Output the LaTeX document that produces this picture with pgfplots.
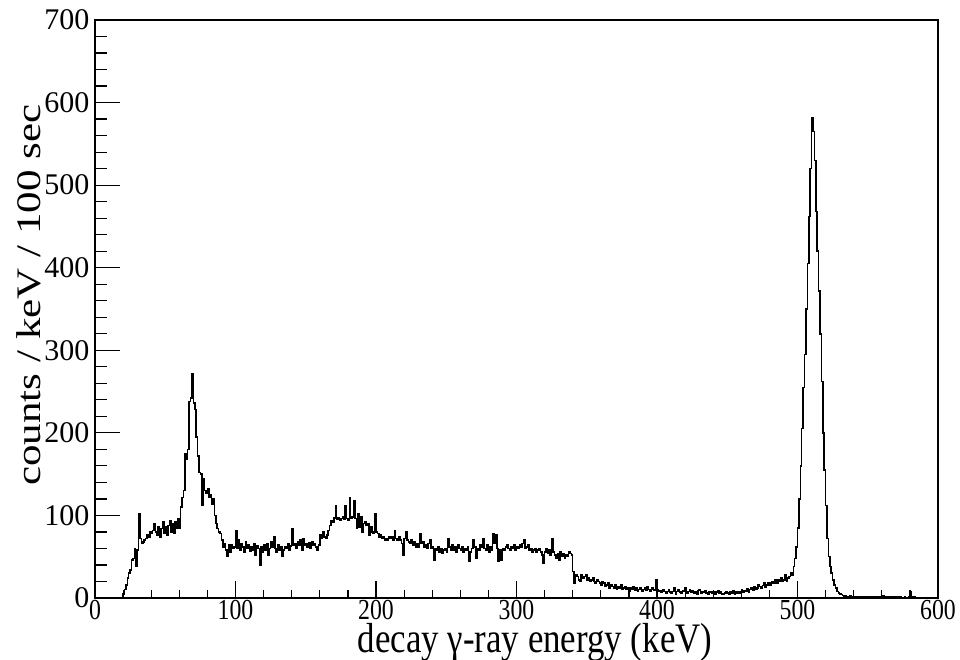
\documentclass[border=0pt]{standalone}
\usepackage{fontspec}
\setmainfont{Liberation Serif}
\usepackage{pgfplots}
\usepackage{pgfplotstable}
\pgfplotsset{compat=1.18}
% counts per 1 keV bin, bins starting at 19 keV
\pgfplotstableread[header=false,row sep=\\]{
0\\
5\\10\\16\\24\\30\\34\\46\\48\\60\\38\\
58\\102\\72\\66\\68\\70\\72\\76\\74\\80\\
78\\82\\90\\80\\76\\86\\74\\84\\92\\78\\
86\\76\\88\\94\\80\\90\\78\\92\\84\\96\\
84\\110\\122\\130\\175\\168\\180\\238\\242\\272\\
236\\228\\195\\172\\152\\150\\112\\145\\130\\127\\
132\\122\\125\\113\\120\\100\\90\\84\\80\\78\\
70\\62\\66\\58\\50\\64\\56\\65\\60\\62\\
82\\60\\70\\58\\66\\62\\55\\68\\60\\64\\
57\\62\\58\\66\\52\\63\\60\\40\\62\\56\\
64\\58\\66\\52\\60\\68\\62\\74\\60\\56\\
64\\58\\62\\50\\58\\62\\60\\66\\58\\63\\
84\\64\\66\\60\\68\\64\\70\\58\\72\\64\\
66\\62\\67\\60\\68\\64\\66\\62\\58\\64\\
76\\72\\80\\74\\72\\76\\82\\88\\94\\92\\
97\\112\\95\\97\\94\\96\\98\\95\\112\\96\\
94\\122\\96\\98\\118\\96\\84\\102\\86\\98\\
80\\90\\92\\88\\90\\76\\86\\80\\78\\102\\
80\\78\\74\\76\\72\\74\\70\\72\\70\\74\\
72\\74\\70\\82\\72\\70\\74\\70\\66\\52\\
72\\80\\70\\68\\66\\70\\64\\68\\62\\66\\
62\\78\\66\\68\\62\\64\\60\\66\\70\\60\\
62\\46\\60\\58\\62\\56\\60\\54\\58\\60\\
56\\72\\62\\58\\64\\58\\62\\56\\64\\60\\
58\\62\\56\\60\\58\\62\\44\\56\\60\\70\\
62\\48\\60\\58\\64\\62\\72\\60\\58\\64\\
56\\62\\58\\78\\66\\76\\60\\45\\58\\46\\
60\\58\\62\\64\\60\\58\\62\\60\\64\\58\\
62\\60\\64\\62\\66\\70\\60\\62\\64\\58\\
60\\56\\58\\60\\56\\58\\60\\56\\52\\42\\
56\\60\\54\\58\\52\\72\\56\\52\\48\\54\\
46\\56\\50\\54\\48\\52\\50\\56\\54\\52\\
32\\18\\28\\26\\22\\20\\28\\24\\26\\28\\
22\\24\\20\\22\\24\\20\\18\\22\\20\\18\\
16\\20\\18\\14\\16\\18\\12\\16\\14\\12\\
16\\10\\14\\12\\16\\10\\12\\14\\10\\12\\
8\\12\\10\\14\\9\\12\\8\\10\\12\\8\\
10\\12\\9\\14\\10\\8\\12\\10\\9\\22\\
10\\8\\9\\7\\10\\8\\6\\8\\10\\7\\
6\\8\\12\\5\\8\\10\\7\\6\\9\\8\\
12\\6\\8\\10\\7\\9\\6\\8\\5\\9\\
10\\6\\8\\7\\9\\6\\5\\8\\7\\6\\
8\\5\\7\\9\\6\\7\\5\\4\\6\\8\\
6\\5\\7\\6\\9\\5\\7\\6\\8\\6\\
10\\7\\9\\8\\11\\7\\10\\12\\9\\14\\
10\\12\\16\\14\\12\\15\\18\\13\\16\\19\\
15\\18\\20\\18\\22\\18\\22\\20\\24\\20\\
22\\28\\20\\24\\26\\30\\28\\38\\48\\62\\
85\\120\\160\\205\\255\\295\\350\\405\\462\\520\\
582\\565\\530\\468\\420\\372\\320\\262\\200\\155\\
112\\72\\50\\38\\30\\22\\16\\12\\8\\6\\
5\\4\\3\\2\\3\\1\\2\\3\\1\\2\\
1\\2\\0\\1\\2\\1\\0\\1\\2\\1\\
0\\1\\0\\2\\1\\0\\1\\0\\1\\0\\
1\\3\\0\\1\\0\\2\\0\\1\\0\\1\\
0\\2\\0\\1\\0\\0\\1\\0\\0\\1\\
8\\1\\0\\2\\0\\0\\0\\0\\0\\0\\
0\\0\\0\\0\\0\\0\\0\\0\\0\\0\\
0\\
}\spectrum

\begin{document}
\begin{tikzpicture}[x=1pt,y=1pt]
\useasboundingbox (0,0) rectangle (960,660);
% axis with y ticks, frame and histogram
\begin{axis}[
  at={(95pt,62pt)}, anchor=south west,
  scale only axis, width=843pt, height=578pt,
  xmin=0, xmax=600, ymin=0, ymax=700,
  axis line style={line width=1.5pt},
  tick pos=left, tick align=inside,
  xtick=\empty,
  ytick={0,100,...,700}, minor y tick num=4,
  major tick length=25pt, minor tick length=12pt,
  every tick/.style={black, line width=1.2pt},
  /pgf/number format/assume math mode=true,
  yticklabel style={font=\fontsize{30}{30}\selectfont, xshift=-2pt},
  ylabel={counts / keV / 100 sec},
  ylabel style={font=\fontsize{43}{43}\selectfont, at={(axis description cs:-0.078,0.524)}, anchor=center, yscale=0.8, inner sep=0pt},
]
\addplot[const plot, black, line width=1.5pt, mark=none] table[x expr=\coordindex+19, y index=0] {\spectrum};
\end{axis}
% axis with x ticks and labels
\begin{axis}[
  at={(95pt,62pt)}, anchor=south west,
  scale only axis, width=843pt, height=578pt,
  xmin=0, xmax=600, ymin=0, ymax=700,
  axis line style={line width=1.5pt},
  tick pos=left, tick align=inside,
  ytick=\empty,
  xtick={0,100,...,600}, minor x tick num=4,
  major tick length=17pt, minor tick length=8pt,
  every tick/.style={black, line width=1.2pt},
  /pgf/number format/assume math mode=true,
  xticklabel style={font=\fontsize{29}{29}\selectfont, xscale=0.82, yshift=1.5pt},
  xlabel={decay γ-ray energy (keV)},
  xlabel style={font=\fontsize{42}{42}\selectfont, at={(axis description cs:0.522,-0.0765)}, anchor=center, xscale=0.83, inner sep=0pt},
]
\end{axis}
\end{tikzpicture}
\end{document}
